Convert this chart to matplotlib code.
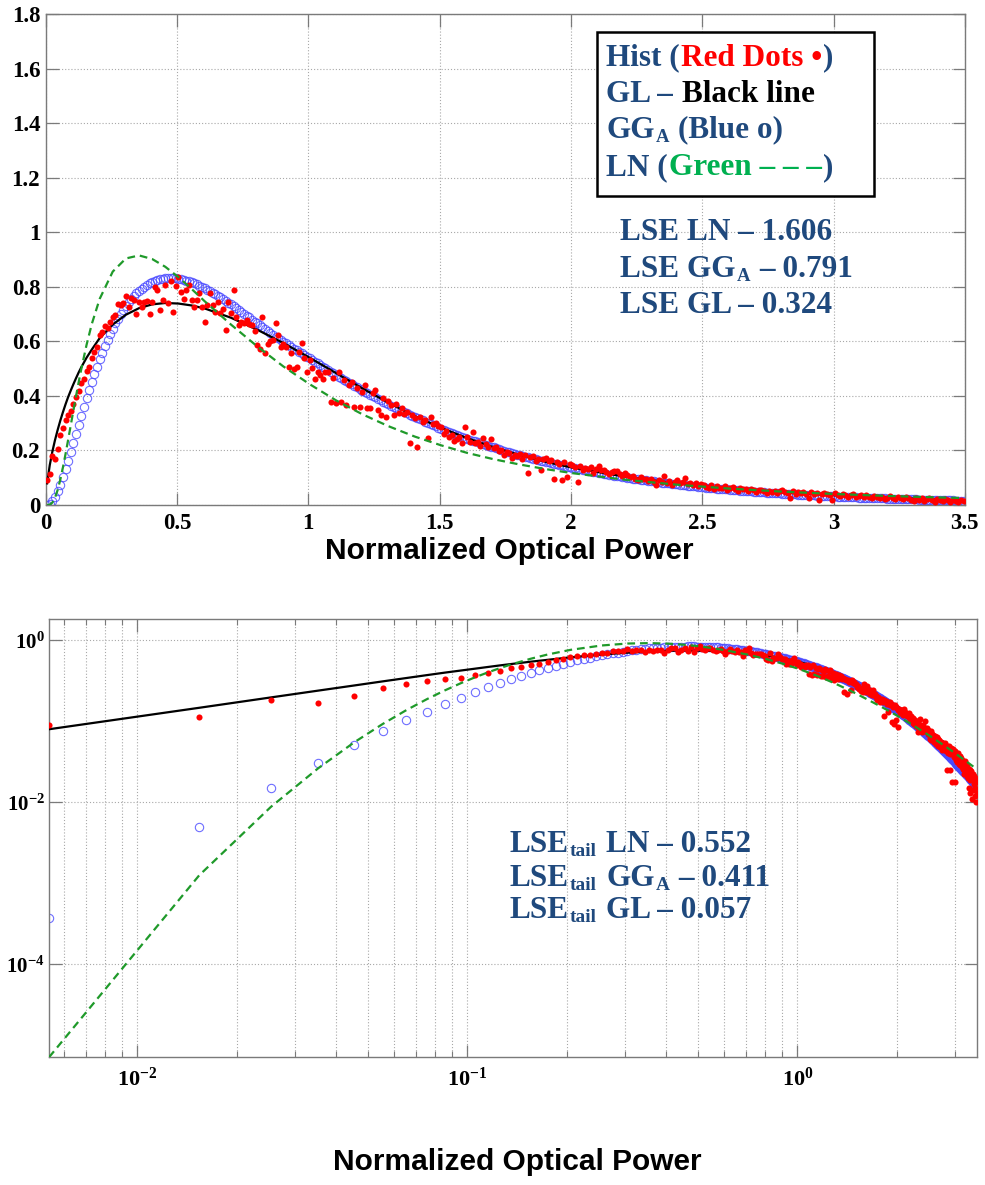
import numpy as np
import matplotlib
matplotlib.use("Agg")
import matplotlib.pyplot as plt
from matplotlib.patches import Rectangle
from matplotlib.ticker import FixedLocator, FixedFormatter, LogLocator, NullFormatter, NullLocator

plt.rcParams['mathtext.fontset'] = 'custom'
plt.rcParams['mathtext.rm'] = 'Liberation Serif:bold'
plt.rcParams['mathtext.bf'] = 'Liberation Serif:bold'
plt.rcParams['mathtext.it'] = 'Liberation Serif:bold'

# ---------------- data ----------------
N_BINS = 350
BIN_FIRST = 0.0054
BIN_WIDTH = 0.01
bin_centres = np.round(BIN_FIRST + BIN_WIDTH * np.arange(N_BINS), 4)

# histogram (red dots), one value per bin
hist_pdf = [
    0.090, 0.114, 0.180, 0.168, 0.205, 0.255, 0.283, 0.312, 0.330, 0.343,
    0.372, 0.396, 0.420, 0.448, 0.463, 0.492, 0.505, 0.540, 0.560, 0.580,
    0.625, 0.634, 0.655, 0.648, 0.670, 0.690, 0.697, 0.737, 0.735, 0.740,
    0.768, 0.726, 0.760, 0.752, 0.702, 0.745, 0.728, 0.745, 0.750, 0.700,
    0.745, 0.800, 0.788, 0.715, 0.751, 0.806, 0.740, 0.820, 0.708, 0.805,
    0.837, 0.782, 0.757, 0.790, 0.806, 0.751, 0.726, 0.752, 0.776, 0.728,
    0.671, 0.735, 0.776, 0.734, 0.709, 0.746, 0.703, 0.720, 0.642, 0.746,
    0.703, 0.789, 0.690, 0.660, 0.672, 0.666, 0.680, 0.665, 0.660, 0.640,
    0.586, 0.574, 0.690, 0.556, 0.592, 0.600, 0.605, 0.666, 0.623, 0.580,
    0.590, 0.580, 0.506, 0.556, 0.500, 0.507, 0.560, 0.593, 0.540, 0.488,
    0.531, 0.501, 0.464, 0.489, 0.477, 0.464, 0.489, 0.488, 0.378, 0.465,
    0.373, 0.488, 0.378, 0.458, 0.367, 0.440, 0.452, 0.361, 0.430, 0.361,
    0.415, 0.440, 0.354, 0.355, 0.410, 0.422, 0.349, 0.330, 0.392, 0.324,
    0.380, 0.365, 0.330, 0.372, 0.336, 0.355, 0.332, 0.341, 0.226, 0.330,
    0.318, 0.214, 0.324, 0.305, 0.312, 0.245, 0.324, 0.296, 0.300, 0.289,
    0.285, 0.262, 0.270, 0.248, 0.258, 0.236, 0.242, 0.250, 0.226, 0.287,
    0.248, 0.230, 0.269, 0.226, 0.232, 0.218, 0.245, 0.222, 0.212, 0.241,
    0.208, 0.214, 0.198, 0.203, 0.184, 0.196, 0.190, 0.172, 0.185, 0.178,
    0.186, 0.170, 0.184, 0.117, 0.176, 0.178, 0.162, 0.170, 0.129, 0.167,
    0.171, 0.160, 0.164, 0.097, 0.158, 0.150, 0.093, 0.158, 0.103, 0.149,
    0.145, 0.139, 0.085, 0.143, 0.127, 0.136, 0.132, 0.139, 0.118, 0.133,
    0.142, 0.128, 0.127, 0.122, 0.115, 0.121, 0.124, 0.125, 0.113, 0.105,
    0.116, 0.110, 0.103, 0.108, 0.096, 0.091, 0.102, 0.097, 0.094, 0.088,
    0.095, 0.084, 0.073, 0.092, 0.086, 0.105, 0.080, 0.088, 0.073, 0.084,
    0.090, 0.079, 0.083, 0.100, 0.076, 0.081, 0.074, 0.082, 0.069, 0.078,
    0.072, 0.066, 0.061, 0.075, 0.058, 0.070, 0.064, 0.061, 0.068, 0.055,
    0.061, 0.066, 0.059, 0.052, 0.063, 0.057, 0.060, 0.050, 0.058, 0.054,
    0.048, 0.056, 0.055, 0.050, 0.044, 0.053, 0.049, 0.052, 0.045, 0.051,
    0.054, 0.047, 0.043, 0.025, 0.050, 0.041, 0.046, 0.044, 0.049, 0.039,
    0.025, 0.046, 0.040, 0.043, 0.018, 0.041, 0.045, 0.042, 0.036, 0.018,
    0.043, 0.037, 0.033, 0.039, 0.035, 0.031, 0.036, 0.041, 0.030, 0.034,
    0.037, 0.029, 0.035, 0.031, 0.027, 0.033, 0.030, 0.026, 0.031, 0.022,
    0.025, 0.032, 0.027, 0.023, 0.030, 0.026, 0.021, 0.028, 0.024, 0.020,
    0.015, 0.026, 0.019, 0.025, 0.013, 0.022, 0.024, 0.020, 0.011, 0.022,
    0.019, 0.014, 0.021, 0.017, 0.012, 0.020, 0.015, 0.010, 0.018, 0.013,
]

# GG_A fit (blue circles), one value per bin
gga_pdf = [
    0.00037, 0.0050, 0.0150, 0.0305, 0.0508, 0.0750, 0.102, 0.131, 0.163, 0.195,
    0.228, 0.261, 0.294, 0.327, 0.359, 0.391, 0.422, 0.451, 0.480, 0.508,
    0.534, 0.559, 0.583, 0.606, 0.627, 0.647, 0.666, 0.684, 0.701, 0.716,
    0.730, 0.743, 0.755, 0.766, 0.777, 0.786, 0.794, 0.801, 0.807, 0.813,
    0.818, 0.822, 0.825, 0.828, 0.830, 0.831, 0.832, 0.832, 0.832, 0.831,
    0.830, 0.828, 0.826, 0.823, 0.820, 0.817, 0.813, 0.809, 0.805, 0.800,
    0.795, 0.790, 0.785, 0.779, 0.774, 0.768, 0.762, 0.755, 0.749, 0.742,
    0.736, 0.729, 0.722, 0.716, 0.709, 0.702, 0.695, 0.688, 0.680, 0.673,
    0.666, 0.659, 0.652, 0.644, 0.637, 0.630, 0.624, 0.618, 0.611, 0.605,
    0.599, 0.593, 0.587, 0.580, 0.574, 0.568, 0.562, 0.556, 0.550, 0.544,
    0.538, 0.532, 0.526, 0.520, 0.514, 0.508, 0.502, 0.496, 0.489, 0.483,
    0.477, 0.471, 0.466, 0.460, 0.455, 0.449, 0.443, 0.437, 0.432, 0.426,
    0.420, 0.415, 0.410, 0.405, 0.400, 0.395, 0.390, 0.384, 0.379, 0.374,
    0.369, 0.364, 0.359, 0.354, 0.349, 0.344, 0.340, 0.336, 0.331, 0.327,
    0.323, 0.318, 0.314, 0.310, 0.305, 0.301, 0.297, 0.293, 0.288, 0.284,
    0.280, 0.276, 0.272, 0.269, 0.265, 0.261, 0.258, 0.254, 0.250, 0.247,
    0.243, 0.240, 0.236, 0.233, 0.230, 0.227, 0.223, 0.220, 0.217, 0.214,
    0.211, 0.208, 0.205, 0.202, 0.199, 0.196, 0.194, 0.191, 0.188, 0.185,
    0.183, 0.180, 0.177, 0.175, 0.172, 0.170, 0.168, 0.165, 0.163, 0.160,
    0.158, 0.156, 0.154, 0.151, 0.149, 0.147, 0.145, 0.143, 0.141, 0.139,
    0.137, 0.135, 0.133, 0.131, 0.129, 0.127, 0.125, 0.123, 0.1215, 0.1197,
    0.1179, 0.1162, 0.1145, 0.1128, 0.1111, 0.1094, 0.1078, 0.1062, 0.1047, 0.1031,
    0.1016, 0.1001, 0.0986, 0.0972, 0.0957, 0.0943, 0.0929, 0.0916, 0.0902, 0.0889,
    0.0876, 0.0863, 0.0850, 0.0838, 0.0825, 0.0813, 0.0801, 0.0789, 0.0778, 0.0766,
    0.0755, 0.0744, 0.0733, 0.0722, 0.0711, 0.0701, 0.0690, 0.0680, 0.0670, 0.0660,
    0.0650, 0.0641, 0.0631, 0.0622, 0.0613, 0.0604, 0.0595, 0.0586, 0.0577, 0.0569,
    0.0560, 0.0552, 0.0544, 0.0536, 0.0528, 0.0521, 0.0513, 0.0506, 0.0498, 0.0491,
    0.0484, 0.0477, 0.0470, 0.0463, 0.0456, 0.0450, 0.0443, 0.0437, 0.0430, 0.0424,
    0.0418, 0.0412, 0.0406, 0.0400, 0.0394, 0.0389, 0.0383, 0.0378, 0.0372, 0.0367,
    0.0362, 0.0356, 0.0351, 0.0346, 0.0341, 0.0336, 0.0331, 0.0327, 0.0322, 0.0317,
    0.0313, 0.0309, 0.0304, 0.0300, 0.0296, 0.0291, 0.0287, 0.0283, 0.0279, 0.0275,
    0.0271, 0.0268, 0.0264, 0.0260, 0.0256, 0.0253, 0.0249, 0.0246, 0.0242, 0.0239,
    0.0236, 0.0233, 0.0229, 0.0226, 0.0223, 0.0220, 0.0217, 0.0214, 0.0211, 0.0208,
    0.0205, 0.0202, 0.0199, 0.0197, 0.0194, 0.0191, 0.0188, 0.0186, 0.0183, 0.0181,
    0.0178, 0.0176, 0.0173, 0.0171, 0.0169, 0.0166, 0.0164, 0.0162, 0.0159, 0.0157,
]

# bins at which the GL and LN curves are drawn
curve_bins = [0, 1, 2, 3, 4, 5, 6, 7, 8, 9, 10, 11, 12, 13, 15, 17, 20, 25, 30, 35,
              40, 45, 50, 55, 60, 70, 80, 90, 100, 110, 120, 130, 140, 150, 160, 170,
              180, 190, 200, 220, 240, 260, 280, 300, 320, 340, 349]

gl_pdf = [0.0794, 0.146, 0.196, 0.238, 0.275, 0.309, 0.340, 0.369, 0.396, 0.420,
          0.443, 0.465, 0.486, 0.505, 0.540, 0.570, 0.612, 0.662, 0.698, 0.722,
          0.736, 0.741, 0.739, 0.732, 0.721, 0.687, 0.643, 0.594, 0.540, 0.484,
          0.428, 0.375, 0.326, 0.283, 0.245, 0.212, 0.183, 0.158, 0.137, 0.104,
          0.079, 0.060, 0.046, 0.0355, 0.0272, 0.0196, 0.0165]

ln_pdf = [7.17e-6, 1.256e-3, 8.77e-3, 0.0264, 0.0547, 0.0922, 0.1369, 0.1864, 0.2388, 0.2925,
          0.3461, 0.3987, 0.4495, 0.4981, 0.5867, 0.6635, 0.7558, 0.8563, 0.9044, 0.9155,
          0.9023, 0.8738, 0.8358, 0.7927, 0.7474, 0.662, 0.582, 0.508, 0.443, 0.384,
          0.333, 0.289, 0.251, 0.219, 0.191, 0.168, 0.1485, 0.1315, 0.1168, 0.0927,
          0.0743, 0.0601, 0.0490, 0.0403, 0.0333, 0.0277, 0.0256]

top_yticks = [0, 0.2, 0.4, 0.6, 0.8, 1, 1.2, 1.4, 1.6, 1.8]
top_yticklabels = ['0', '0.2', '0.4', '0.6', '0.8', '1', '1.2', '1.4', '1.6', '1.8']
top_xticks = [0, 0.5, 1, 1.5, 2, 2.5, 3, 3.5]
top_xticklabels = ['0', '0.5', '1', '1.5', '2', '2.5', '3', '3.5']
log_xticks = [1e-2, 1e-1, 1e0]
log_xticklabels = [r'$\mathbf{10^{-2}}$', r'$\mathbf{10^{-1}}$', r'$\mathbf{10^{0}}$']
log_yticks = [1e-4, 1e-2, 1e0]
log_yticklabels = [r'$\mathbf{10^{-4}}$', r'$\mathbf{10^{-2}}$', r'$\mathbf{10^{0}}$']

legend_lines = [
    [("Hist (", 'db'), ("Red Dots •", 'red'), (")", 'db')],
    [("GL – ", 'db'), ("Black line", 'black')],
    [("GG", 'db'), ("A", 'db', 'sub'), (" (Blue o)", 'db')],
    [("LN (", 'db'), ("Green – – –", 'green'), (")", 'db')],
]
lse_lines = [
    [("LSE LN – 1.606", 'db')],
    [("LSE GG", 'db'), ("A", 'db', 'sub'), (" – 0.791", 'db')],
    [("LSE GL – 0.324", 'db')],
]
lse_tail_lines = [
    [("LSE", 'db'), ("tail", 'db', 'sub'), (" LN – 0.552", 'db')],
    [("LSE", 'db'), ("tail", 'db', 'sub'), (" GG", 'db'), ("A", 'db', 'sub'), (" – 0.411", 'db')],
    [("LSE", 'db'), ("tail", 'db', 'sub'), (" GL – 0.057", 'db')],
]

# ---------------- style ----------------
COLORS = {'db': '#1F497D', 'red': '#FF0000', 'black': '#000000', 'green': '#00B050'}
BLUE = '#4a4aff'
GREEN_LINE = '#1f9a2a'
SPINE = '#7a7a7a'
GRID = '#a8a8a8'
SERIF = 'Liberation Serif'
SANS = 'Liberation Sans'

fig = plt.figure(figsize=(9.85, 11.85), dpi=100)
W, H = 985, 1185
ax1 = fig.add_axes([45.7 / W, 1 - 505 / H, (964.8 - 45.7) / W, (505 - 14.3) / H])
ax2 = fig.add_axes([49 / W, 1 - 1057.3 / H, (976.7 - 49) / W, (1057.3 - 619.3) / H])

curve_x = bin_centres[curve_bins]


def draw_series(ax):
    ax.plot(bin_centres, gga_pdf, linestyle='none', marker='o', mfc='none', mec=BLUE,
            ms=6.0, mew=0.8, alpha=0.8, zorder=2)
    ax.plot(curve_x, gl_pdf, color='black', lw=1.6, zorder=3)
    ax.plot(bin_centres, hist_pdf, linestyle='none', marker='o', color='red', mec='none',
            ms=4.4, zorder=4)
    ax.plot(curve_x, ln_pdf, color=GREEN_LINE, lw=1.6, linestyle=(0, (3.5, 2.2)), zorder=5)


for ax in (ax1, ax2):
    for s in ax.spines.values():
        s.set_color(SPINE)
        s.set_linewidth(1.0)
    ax.set_facecolor('white')

draw_series(ax1)
ax1.set_xlim(0, 3.5)
ax1.set_ylim(0, 1.8)
ax1.xaxis.set_major_locator(FixedLocator(top_xticks))
ax1.xaxis.set_major_formatter(FixedFormatter(top_xticklabels))
ax1.yaxis.set_major_locator(FixedLocator(top_yticks))
ax1.yaxis.set_major_formatter(FixedFormatter(top_yticklabels))
ax1.grid(True, which='major', color=GRID, linestyle=(0, (1, 1.8)), lw=0.8)
ax1.tick_params(direction='in', top=True, right=True, length=9, width=0.9, color=SPINE,
                labelsize=16.5, pad=4)
ax1.tick_params(axis='x', pad=6)
for lab in ax1.get_xticklabels() + ax1.get_yticklabels():
    lab.set_fontfamily(SERIF)
    lab.set_fontweight('bold')

draw_series(ax2)
ax2.set_xscale('log')
ax2.set_yscale('log')
ax2.set_xlim(bin_centres[0], bin_centres[-1])
ax2.set_ylim(ln_pdf[0], 1.8)
ax2.xaxis.set_major_locator(FixedLocator(log_xticks))
ax2.xaxis.set_major_formatter(FixedFormatter(log_xticklabels))
ax2.xaxis.set_minor_locator(LogLocator(base=10, subs=np.arange(2, 10)))
ax2.xaxis.set_minor_formatter(NullFormatter())
ax2.yaxis.set_major_locator(FixedLocator(log_yticks))
ax2.yaxis.set_major_formatter(FixedFormatter(log_yticklabels))
ax2.yaxis.set_minor_locator(NullLocator())
ax2.grid(True, which='major', color=GRID, linestyle=(0, (1, 1.8)), lw=0.8)
ax2.grid(True, which='minor', axis='x', color=GRID, linestyle=(0, (1, 1.8)), lw=0.8)
ax2.tick_params(which='major', direction='in', top=True, right=True, length=9, width=0.9,
                color=SPINE, labelsize=16, pad=7)
ax2.tick_params(axis='y', which='major', labelsize=15, pad=3)
ax2.tick_params(which='minor', direction='in', top=True, right=True, length=4.5, width=0.8,
                color=SPINE)

# x labels
for ax, ypix in ((ax1, 551), (ax2, 1162)):
    bb = ax.get_position()
    fig.text((bb.x0 + bb.x1) / 2 + 4 / W, 1 - ypix / H, 'Normalized Optical Power',
             family=SANS, fontweight='bold', fontsize=21.5, ha='center', va='center')

# ---------------- rich text helper ----------------
renderer = fig.canvas.get_renderer()


def text_width_px(s, size):
    t = fig.text(0, 0, s, family=SERIF, fontweight='bold', fontsize=size)
    w = t.get_window_extent(renderer).width
    t.remove()
    return w


def draw_rich(ax, x, y, pieces, size, sub_scale=0.6, sub_drop=4):
    ax_bb = ax.get_window_extent(renderer)
    space_w = text_width_px('a a', size) - text_width_px('aa', size)
    xpix = ax_bb.x0 + x * ax_bb.width
    ypix = ax_bb.y0 + y * ax_bb.height
    for piece in pieces:
        s, c = piece[0], COLORS[piece[1]]
        is_sub = len(piece) > 2
        fs = size * sub_scale if is_sub else size
        lead = len(s) - len(s.lstrip(' '))
        trail = len(s) - len(s.rstrip(' '))
        core = s.strip(' ')
        xpix += lead * space_w
        yy = ypix - (sub_drop if is_sub else 0)
        t = ax.text((xpix - ax_bb.x0) / ax_bb.width, (yy - ax_bb.y0) / ax_bb.height, core,
                    transform=ax.transAxes, family=SERIF, fontweight='bold', fontsize=fs,
                    color=c, ha='left', va='baseline', zorder=10)
        xpix = t.get_window_extent(renderer).x1 + 1.0
        xpix += trail * space_w


# legend box (top panel)
ax1.add_patch(Rectangle((0.600, 0.630), 0.3015, 0.333, transform=ax1.transAxes,
                        facecolor='white', edgecolor='black', lw=1.8, zorder=9))
leg_base = [65.7, 101.7, 137.7, 175.0]
for pieces, py in zip(legend_lines, leg_base):
    draw_rich(ax1, (606 - 45.7) / 919.1, (505 - py) / 490.7, pieces, 22.5)

lse_base = [240.0, 276.7, 313.3]
for pieces, py in zip(lse_lines, lse_base):
    draw_rich(ax1, (620 - 45.7) / 919.1, (505 - py) / 490.7, pieces, 22.5)

tail_base = [852.3, 885.7, 918.3]
for pieces, py in zip(lse_tail_lines, tail_base):
    draw_rich(ax2, (510 - 49) / 927.7, (1057.3 - py) / 438.0, pieces, 22.5,
              sub_scale=0.62, sub_drop=4)

fig.savefig('out.png', dpi=100, facecolor='white')
